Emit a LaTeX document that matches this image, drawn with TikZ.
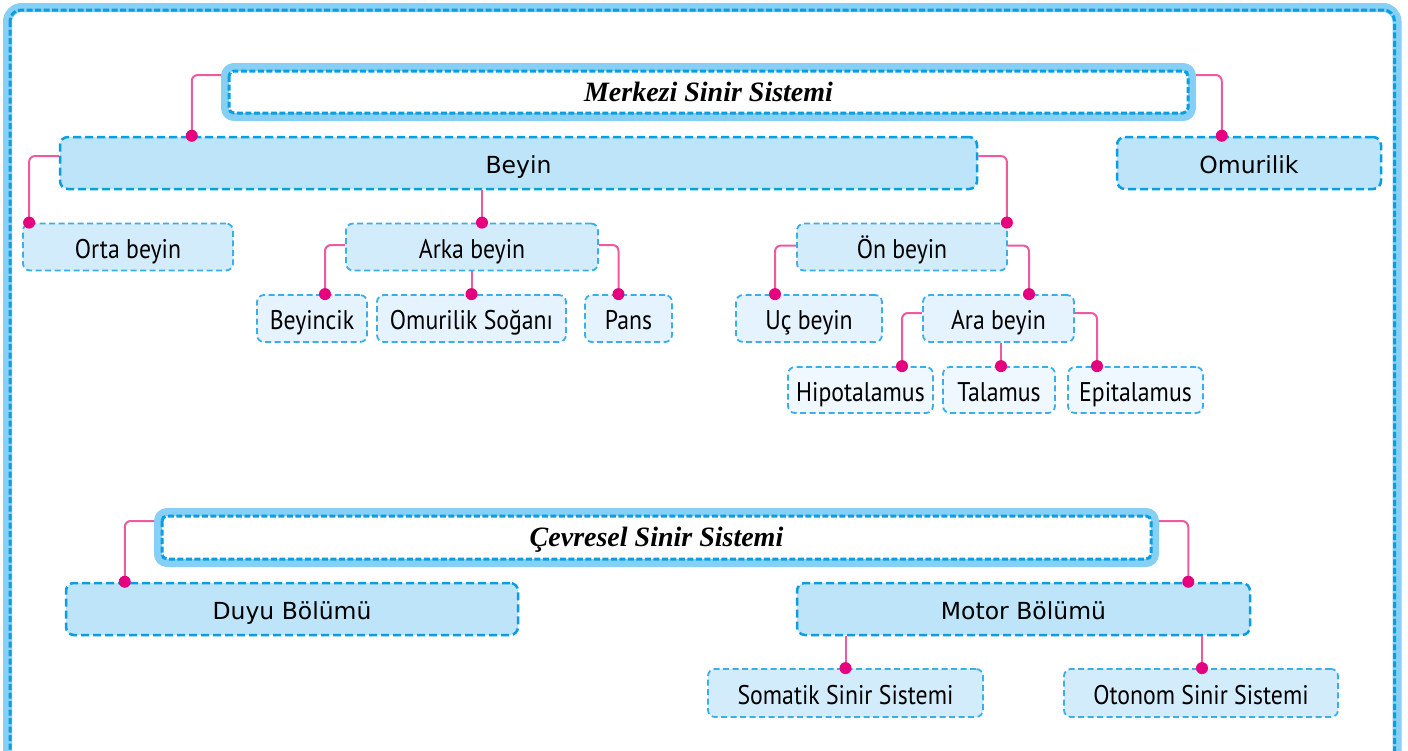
\documentclass[tikz,border=0pt]{standalone}
\usepackage{fontspec}
\setmainfont{DejaVu Sans}
\newfontfamily\labelfont[FakeStretch=0.88]{PT Sans}
\newfontfamily\titlefont{Liberation Serif}
\definecolor{bandblue}{HTML}{86CFF5}
\definecolor{dashblue}{HTML}{0A9DE2}
\definecolor{softdash}{HTML}{38AEEA}
\definecolor{fillone}{HTML}{BDE4F8}
\definecolor{filltwo}{HTML}{D3ECFB}
\definecolor{fillthree}{HTML}{E4F3FD}
\definecolor{fillfour}{HTML}{EEF8FE}
\definecolor{linkpink}{HTML}{EE5A9E}
\definecolor{dotpink}{HTML}{E5007D}

\begin{document}
\begin{tikzpicture}[x=1pt,y=-1pt,
    titlebox/.style={draw=bandblue, line width=8pt, rounded corners=9pt, outer sep=4pt, inner sep=0pt,
      text height=18pt, text depth=0pt, font=\titlefont\bfseries\itshape\fontsize{28}{32}\selectfont},
    titledash/.style={draw=dashblue, line width=3pt, dash pattern=on 6pt off 2.5pt, rounded corners=5pt},
    mainbox/.style={draw=dashblue, fill=fillone, line width=2.5pt, dash pattern=on 8pt off 4pt,
      rounded corners=8pt, inner sep=0pt, minimum height=52pt, text height=20pt, text depth=0pt,
      font=\fontsize{23.5}{28}\selectfont},
    subbox/.style={draw=softdash, line width=1.8pt, dash pattern=on 6pt off 3.5pt, rounded corners=7pt,
      inner sep=0pt, minimum height=47pt, text height=22pt, text depth=0pt,
      font=\labelfont\fontsize{27}{30}\selectfont},
    link/.style={draw=linkpink, line width=2pt, rounded corners=6pt}]
  \useasboundingbox (0,0) rectangle (1408,750);

  % outer frame
  \begin{scope}
    \clip (0,0) rectangle (1408,750);
    \draw[bandblue, line width=9pt, rounded corners=14pt] (7.5,7.5) rectangle (1397,800);
    \draw[titledash, rounded corners=11pt] (10,10) rectangle (1394.5,800);
  \end{scope}

  % merkezi sinir sistemi
  \node[titlebox, minimum width=967pt, minimum height=50pt] (merkezi) at (708.5,92) {Merkezi Sinir Sistemi};
  \node[mainbox, minimum width=917pt] (beyin) at (518.5,163) {Beyin};
  \node[mainbox, minimum width=264pt] (omurilik) at (1249,163) {Omurilik};
  \node[subbox, fill=filltwo, minimum width=210pt] (orta) at (128,247) {Orta beyin};
  \node[subbox, fill=filltwo, minimum width=252pt] (arka) at (472,247) {Arka beyin};
  \node[subbox, fill=filltwo, minimum width=210pt] (on) at (902,247) {Ön beyin};
  \node[subbox, fill=fillthree, minimum width=110pt] (beyincik) at (312,318.5) {Beyincik};
  \node[subbox, fill=fillthree, minimum width=189pt] (sogan) at (471.5,318.5) {Omurilik Soğanı};
  \node[subbox, fill=fillthree, minimum width=87pt] (pans) at (628.5,318.5) {Pans};
  \node[subbox, fill=fillthree, minimum width=146pt] (uc) at (809,318.5) {Uç beyin};
  \node[subbox, fill=fillthree, minimum width=151pt] (ara) at (998.5,318.5) {Ara beyin};
  \node[subbox, fill=fillfour, minimum width=145pt, minimum height=46pt] (hipo) at (860.5,390) {Hipotalamus};
  \node[subbox, fill=fillfour, minimum width=112pt, minimum height=46pt] (talamus) at (999,390) {Talamus};
  \node[subbox, fill=fillfour, minimum width=135pt, minimum height=46pt] (epi) at (1135.5,390) {Epitalamus};

  % cevresel sinir sistemi
  \node[titlebox, minimum width=997pt, minimum height=51pt] (cevresel) at (656.5,537.5) {Çevresel Sinir Sistemi};
  \node[mainbox, minimum width=452pt] (duyu) at (292,609) {Duyu Bölümü};
  \node[mainbox, minimum width=453pt] (motor) at (1023.5,609) {Motor Bölümü};
  \node[subbox, fill=filltwo, minimum width=275pt, minimum height=48pt] (somatik) at (845.5,693) {Somatik Sinir Sistemi};
  \node[subbox, fill=filltwo, minimum width=274pt, minimum height=48pt] (otonom) at (1201,693) {Otonom Sinir Sistemi};

  \foreach \t in {merkezi,cevresel}
    \draw[titledash] ([shift={(8pt,-8pt)}]\t.north west) rectangle ([shift={(-8pt,8pt)}]\t.south east);

  % where the links end
  \coordinate (beyin-in) at ([xshift=133pt]beyin.north west);
  \coordinate (omurilik-in) at ([xshift=106pt]omurilik.north west);
  \coordinate (orta-in) at ([xshift=7pt]orta.north west);
  \coordinate (arka-in) at ([xshift=10pt]arka.north);
  \coordinate (on-in) at ([xshift=-1pt]on.north east);
  \coordinate (beyincik-in) at ([xshift=13pt]beyincik.north);
  \coordinate (sogan-in) at (sogan.north);
  \coordinate (pans-in) at ([xshift=-10pt]pans.north);
  \coordinate (uc-in) at ([xshift=-34pt]uc.north);
  \coordinate (ara-in) at ([xshift=30.5pt]ara.north);
  \coordinate (hipo-in) at ([xshift=41.5pt]hipo.north);
  \coordinate (talamus-in) at ([xshift=2pt]talamus.north);
  \coordinate (epi-in) at ([xshift=-38.5pt]epi.north);
  \coordinate (duyu-in) at ([xshift=60pt]duyu.north west);
  \coordinate (motor-in) at ([xshift=-63pt]motor.north east);
  \coordinate (somatik-in) at (somatik.north);
  \coordinate (otonom-in) at ([xshift=1pt]otonom.north);

  \draw[link] ([yshift=17pt]merkezi.west) -| (beyin-in);
  \draw[link] ([yshift=17pt]merkezi.east) -| (omurilik-in);
  \draw[link] ([yshift=7pt]beyin.west) -| (orta-in);
  \draw[link] (arka-in |- beyin.south) -- (arka-in);
  \draw[link] ([yshift=7pt]beyin.east) -| (on-in);
  \draw[link] ([yshift=2pt]arka.west) -| (beyincik-in);
  \draw[link] (sogan-in |- arka.south) -- (sogan-in);
  \draw[link] ([yshift=2pt]arka.east) -| (pans-in);
  \draw[link] ([yshift=1.5pt]on.west) -| (uc-in);
  \draw[link] ([yshift=1.5pt]on.east) -| (ara-in);
  \draw[link] ([yshift=5.5pt]ara.west) -| (hipo-in);
  \draw[link] (talamus-in |- ara.south) -- (talamus-in);
  \draw[link] ([yshift=5.5pt]ara.east) -| (epi-in);
  \draw[link] ([yshift=16.5pt]cevresel.west) -| (duyu-in);
  \draw[link] ([yshift=16.5pt]cevresel.east) -| (motor-in);
  \draw[link] (somatik-in |- motor.south) -- (somatik-in);
  \draw[link] (otonom-in |- motor.south) -- (otonom-in);

  \foreach \c in {beyin-in,omurilik-in,orta-in,arka-in,on-in,beyincik-in,sogan-in,pans-in,uc-in,
                  ara-in,hipo-in,talamus-in,epi-in,duyu-in,motor-in,somatik-in,otonom-in}
    \fill[dotpink] (\c) circle[radius=6pt];
\end{tikzpicture}
\end{document}
